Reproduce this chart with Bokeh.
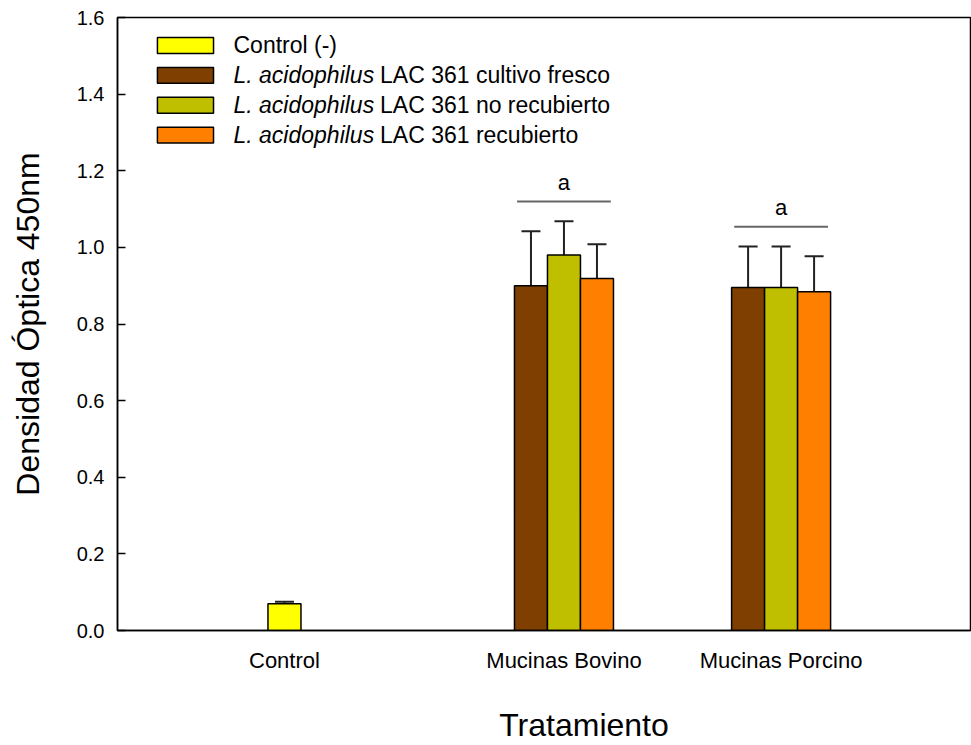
from bokeh.plotting import figure
from bokeh.models import (Range1d, FixedTicker, Whisker, TeeHead, ColumnDataSource,
                          CustomJSTickFormatter)
from bokeh.core.properties import value
from bokeh.embed import file_html
from bokeh.resources import INLINE

# ---------------- data ----------------
categories = ["Control", "Mucinas Bovino", "Mucinas Porcino"]
series_names = ["Control (-)",
                "L. acidophilus LAC 361 cultivo  fresco",
                "L. acidophilus LAC 361 no recubierto",
                "L. acidophilus LAC 361 recubierto"]
control_mean = [0.070]
control_upper = [0.075]
fresco_mean = [0.900, 0.895]
fresco_upper = [1.042, 1.002]
no_recub_mean = [0.980, 0.895]
no_recub_upper = [1.068, 1.002]
recub_mean = [0.919, 0.884]
recub_upper = [1.008, 0.977]
sig_letters = ["a", "a"]
y_ticks = [0.0, 0.2, 0.4, 0.6, 0.8, 1.0, 1.2, 1.4, 1.6]

# ---------------- layout ----------------
FONT = "Liberation Sans"
colors = ["#FFFF00", "#7F3F00", "#BFBF00", "#FF8000"]
centers = [5.06, 13.53, 20.11]   # category centres (x units, 1 unit = bar width)
bw = 1.0

p = figure(width=971, height=745, output_backend="svg", toolbar_location=None,
           x_range=Range1d(0, 25.85), y_range=Range1d(0, 1.6),
           min_border_left=117, min_border_right=1, min_border_top=17, min_border_bottom=0)
p.background_fill_color = "white"
p.border_fill_color = "white"
p.grid.visible = False
p.outline_line_color = "black"
p.outline_line_width = 1.5

# y axis
p.yaxis.ticker = FixedTicker(ticks=y_ticks)
p.yaxis.formatter = CustomJSTickFormatter(code="return tick.toFixed(1);")
p.yaxis.major_tick_in = 8
p.yaxis.major_tick_out = 0
p.yaxis.minor_tick_line_color = None
p.yaxis.axis_line_width = 1.5
p.yaxis.major_tick_line_width = 1.5
p.yaxis.major_label_text_font = FONT
p.yaxis.major_label_text_font_size = "20px"
p.yaxis.major_label_text_color = "black"
p.yaxis.major_label_standoff = 13
p.yaxis.axis_label = "Densidad Óptica 450nm"
p.yaxis.axis_label_text_font = FONT
p.yaxis.axis_label_text_font_size = "32px"
p.yaxis.axis_label_text_font_style = "normal"
p.yaxis.axis_label_text_color = "black"
p.yaxis.axis_label_standoff = 28

# x axis
p.xaxis.ticker = FixedTicker(ticks=centers)
p.xaxis.major_label_overrides = {c: lab for c, lab in zip(centers, categories)}
p.xaxis.major_tick_in = 0
p.xaxis.major_tick_out = 0
p.xaxis.minor_tick_line_color = None
p.xaxis.axis_line_width = 1.5
p.xaxis.major_label_text_font = FONT
p.xaxis.major_label_text_font_size = "22px"
p.xaxis.major_label_text_color = "black"
p.xaxis.major_label_standoff = 17
# title sits slightly right of the frame centre in the reference: pad with no-break spaces
p.xaxis.axis_label = "\u00a0" * 9 + "Tratamiento"
p.xaxis.axis_label_text_font = FONT
p.xaxis.axis_label_text_font_size = "32px"
p.xaxis.axis_label_text_font_style = "normal"
p.xaxis.axis_label_text_color = "black"
p.xaxis.axis_label_standoff = 31

# bars
def bars(xs, means, uppers, color):
    src = ColumnDataSource(dict(x=xs, top=means, upper=uppers))
    p.vbar(x="x", top="top", bottom=0, width=bw, source=src, fill_color=color,
           line_color="black", line_width=1.5)
    p.add_layout(Whisker(base="x", upper="upper", lower="top", source=src,
                         upper_head=TeeHead(size=19, line_width=2, line_color="#222222"),
                         lower_head=None, line_width=2, line_color="#222222", level="underlay"))

bars([centers[0]], control_mean, control_upper, colors[0])
grp = centers[1:]
bars([c - bw for c in grp], fresco_mean, fresco_upper, colors[1])
bars([c for c in grp], no_recub_mean, no_recub_upper, colors[2])
bars([c + bw for c in grp], recub_mean, recub_upper, colors[3])

# significance lines and letters
for i, c in enumerate(grp):
    top = max(fresco_upper[i], no_recub_upper[i], recub_upper[i])
    ly = top + 0.052
    p.segment(x0=[c - 1.42], x1=[c + 1.42], y0=[ly], y1=[ly], line_color="#666666", line_width=2)
    p.text(x=[c], y=[ly + 0.05], text=[sig_letters[i]], text_align="center",
           text_baseline="middle", text_font=value(FONT), text_font_size="22px", text_color="black")

# legend (drawn manually to allow italic species names)
row_y = [1.527, 1.449, 1.371, 1.293]
sw_l, sw_r, hh = 1.21, 2.91, 0.0208
tx = 3.515
italic_part = "L. acidophilus"
for i, name in enumerate(series_names):
    y = row_y[i]
    p.quad(left=[sw_l], right=[sw_r], bottom=[y - hh], top=[y + hh],
           fill_color=colors[i], line_color="black", line_width=1.5)
    if name.startswith(italic_part):
        rest = name[len(italic_part) + 1:]
        p.text(x=[tx], y=[y], text=[italic_part], text_baseline="middle",
               text_font=value(FONT), text_font_style="italic", text_font_size="23px",
               text_color="black")
        p.text(x=[tx + 4.44], y=[y], text=[rest], text_baseline="middle",
               text_font=value(FONT), text_font_size="23px", text_color="black")
    else:
        p.text(x=[tx], y=[y], text=[name], text_baseline="middle",
               text_font=value(FONT), text_font_size="23px", text_color="black")

open("out.html", "w").write(file_html(p, INLINE))
